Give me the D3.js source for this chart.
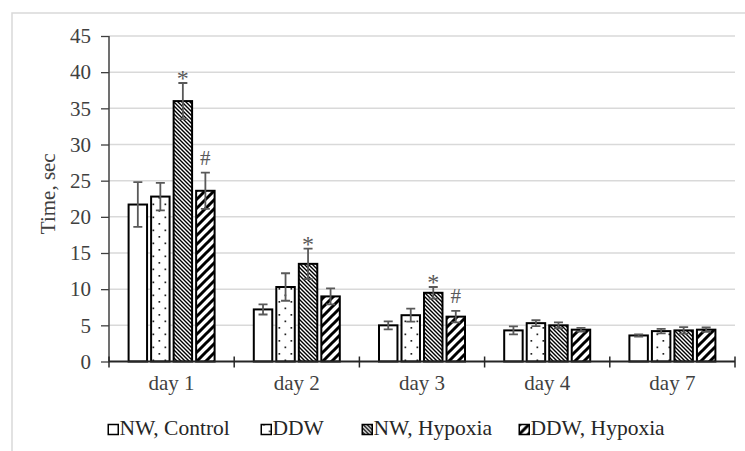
<!DOCTYPE html>
<html>
<head>
<meta charset="utf-8">
<script src="https://cdn.jsdelivr.net/npm/d3@7"></script>
<style>
  body { margin: 0; background: #fff; }
  text { font-family: "Liberation Serif", "Times New Roman", serif; }
</style>
</head>
<body>
<div id="chart"></div>
<script>
// data
var days = ["day 1", "day 2", "day 3", "day 4", "day 7"];
var seriesNames = ["NW, Control", "DDW", "NW, Hypoxia", "DDW, Hypoxia"];
var nwControl = [21.7, 7.2, 5.0, 4.3, 3.6];
var ddw = [22.8, 10.3, 6.4, 5.3, 4.2];
var nwHypoxia = [36.0, 13.5, 9.5, 5.0, 4.3];
var ddwHypoxia = [23.6, 9.0, 6.2, 4.4, 4.4];
var nwControlErr = [3.1, 0.7, 0.55, 0.55, 0.15];
var ddwErr = [1.9, 1.9, 0.9, 0.4, 0.3];
var nwHypoxiaErr = [2.5, 2.1, 0.8, 0.4, 0.45];
var ddwHypoxiaErr = [2.5, 1.1, 0.8, 0.25, 0.3];
var nwHypoxiaMark = ["*", "*", "*", "", ""];
var ddwHypoxiaMark = ["#", "", "#", "", ""];
var yTicks = [0, 5, 10, 15, 20, 25, 30, 35, 40, 45];

var width = 745, height = 451;
var margin = {top: 36, right: 10, bottom: 89.5, left: 109};

var axisGrey = "#404040",
	gridGrey = "#d9d9d9",
	errGrey = "#595959";

var svg = d3.select("#chart").append("svg")
	.attr("width", width)
	.attr("height", height);

//pattern fills
var defs = svg.append("defs");
var dots = defs.append("pattern").attr("id", "pat-dots")
	.attr("patternUnits", "userSpaceOnUse").attr("width", 12).attr("height", 13);
dots.append("rect").attr("width", 12).attr("height", 13).style("fill", "#fff");
dots.append("rect").attr("x", 2.5).attr("y", 2).attr("width", 1.7).attr("height", 1.7).style("fill", "#222");
dots.append("rect").attr("x", 8.5).attr("y", 8.5).attr("width", 1.7).attr("height", 1.7).style("fill", "#222");

var dense = defs.append("pattern").attr("id", "pat-dense")
	.attr("patternUnits", "userSpaceOnUse").attr("width", 4).attr("height", 4);
dense.append("rect").attr("width", 4).attr("height", 4).style("fill", "#fff");
dense.append("path").attr("d", "M-1,-1 L5,5 M-1,3 L1,5 M3,-1 L5,1")
	.style("stroke", "#000").style("stroke-width", 1.4);

var wide = defs.append("pattern").attr("id", "pat-wide")
	.attr("patternUnits", "userSpaceOnUse").attr("width", 9).attr("height", 9);
wide.append("rect").attr("width", 9).attr("height", 9).style("fill", "#fff");
wide.append("path").attr("d", "M-1,10 L10,-1 M-3,3 L3,-3 M6,12 L12,6")
	.style("stroke", "#000").style("stroke-width", 3);

var fills = ["#fff", "url(#pat-dots)", "url(#pat-dense)", "url(#pat-wide)"];

//light frame round the chart area
svg.append("rect")
	.attr("x", 12).attr("y", 13)
	.attr("width", width).attr("height", height)
	.style("fill", "none")
	.style("stroke", gridGrey)
	.style("stroke-width", 1.5);

var x0 = d3.scaleBand()
	.domain(days)
	.range([margin.left, width - margin.right]);

var x1 = d3.scaleBand()
	.domain(seriesNames)
	.range([19.6, x0.bandwidth() - 19.6])
	.paddingInner(0.18);

var y = d3.scaleLinear()
	.domain([0, 45])
	.range([height - margin.bottom, margin.top]);

//gridlines
svg.append("g").selectAll("line")
	.data(yTicks.filter(function(d) { return d > 0; }))
	.enter().append("line")
	.attr("x1", margin.left).attr("x2", width - margin.right)
	.attr("y1", function(d) { return y(d); })
	.attr("y2", function(d) { return y(d); })
	.style("stroke", gridGrey)
	.style("stroke-width", 1.5);

//y axis
var yAxis = svg.append("g")
	.attr("transform", "translate(" + margin.left + ",0)")
	.call(d3.axisLeft(y).tickValues(yTicks).tickSize(8).tickPadding(10));
yAxis.select(".domain").style("stroke", axisGrey).style("stroke-width", 1.5)
	.attr("d", "M0," + y(45) + "V" + y(0));
yAxis.selectAll(".tick line").style("stroke", axisGrey).style("stroke-width", 1.3);
yAxis.selectAll(".tick text")
	.style("font-size", "21px")
	.style("fill", axisGrey)
	.style("font-family", "'Liberation Serif', 'Times New Roman', serif");

svg.append("text")
	.attr("transform", "translate(55," + (y(22.5) - 5) + ") rotate(-90)")
	.style("text-anchor", "middle")
	.style("font-size", "21px")
	.style("fill", axisGrey)
	.text("Time, sec");

//data rows
var rows = [];
var vals = [nwControl, ddw, nwHypoxia, ddwHypoxia];
var errs = [nwControlErr, ddwErr, nwHypoxiaErr, ddwHypoxiaErr];
var marks = [null, null, nwHypoxiaMark, ddwHypoxiaMark];
days.forEach(function(day, i) {
	seriesNames.forEach(function(s, j) {
		rows.push({
			day: day,
			series: s,
			idx: j,
			value: vals[j][i],
			err: errs[j][i],
			mark: marks[j] ? marks[j][i] : ""
		});
	});
});

var bars = svg.append("g").selectAll(".bar")
	.data(rows)
	.enter().append("rect")
	.attr("class", "bar")
	.attr("x", function(d) { return x0(d.day) + x1(d.series); })
	.attr("y", function(d) { return y(d.value); })
	.attr("width", x1.bandwidth())
	.attr("height", function(d) { return y(0) - y(d.value); })
	.style("fill", function(d) { return fills[d.idx]; })
	.style("stroke", "#000")
	.style("stroke-width", 2);

//error bars
var eb = svg.append("g").selectAll(".err")
	.data(rows)
	.enter().append("path")
	.attr("class", "err")
	.attr("d", function(d) {
		var cx = x0(d.day) + x1(d.series) + x1.bandwidth() / 2;
		var t = y(d.value + d.err), b = y(d.value - d.err);
		return "M" + (cx - 4.5) + "," + t + "H" + (cx + 4.5) +
			"M" + cx + "," + t + "V" + b +
			"M" + (cx - 4.5) + "," + b + "H" + (cx + 4.5);
	})
	.style("fill", "none")
	.style("stroke", errGrey)
	.style("stroke-width", 1.8);

//significance marks
svg.append("g").selectAll(".mark")
	.data(rows.filter(function(d) { return d.mark; }))
	.enter().append("text")
	.attr("class", "mark")
	.attr("x", function(d) { return x0(d.day) + x1(d.series) + x1.bandwidth() / 2; })
	.attr("y", function(d) { return y(d.value + d.err) + (d.mark === "*" ? 3 : -8); })
	.style("text-anchor", "middle")
	.style("font-size", function(d) { return d.mark === "*" ? "24px" : "21px"; })
	.style("fill", errGrey)
	.text(function(d) { return d.mark; });

//x axis
var xAxis = svg.append("g");
xAxis.append("line")
	.attr("x1", margin.left).attr("x2", width - margin.right)
	.attr("y1", y(0)).attr("y2", y(0))
	.style("stroke", "#262626")
	.style("stroke-width", 2);
var bounds = days.map(function(d) { return x0(d); }).concat([x0.range()[1]]);
xAxis.selectAll(".xtick")
	.data(bounds)
	.enter().append("line")
	.attr("x1", function(d) { return d; }).attr("x2", function(d) { return d; })
	.attr("y1", y(0) - 5).attr("y2", y(0) + 6)
	.style("stroke", "#262626")
	.style("stroke-width", 1.5);
xAxis.selectAll(".xlabel")
	.data(days)
	.enter().append("text")
	.attr("x", function(d) { return x0(d) + x0.bandwidth() / 2; })
	.attr("y", 390)
	.style("text-anchor", "middle")
	.style("font-size", "21px")
	.style("fill", axisGrey)
	.text(function(d) { return d; });

//legend
var legendX = [107.5, 260.5, 361.5, 518.5];
var legend = svg.append("g").selectAll(".legend")
	.data(seriesNames)
	.enter().append("g")
	.attr("class", "legend")
	.attr("transform", function(d, i) { return "translate(" + legendX[i] + ",435)"; });
legend.append("rect")
	.attr("x", 0.75).attr("y", -10.5)
	.attr("width", 10).attr("height", 10)
	.style("fill", function(d, i) { return fills[i]; })
	.style("stroke", "#000")
	.style("stroke-width", 1.5);
legend.append("text")
	.attr("x", 12)
	.attr("y", 0)
	.style("font-size", "21.5px")
	.style("fill", "#262626")
	.text(function(d) { return d; });
</script>
</body>
</html>
